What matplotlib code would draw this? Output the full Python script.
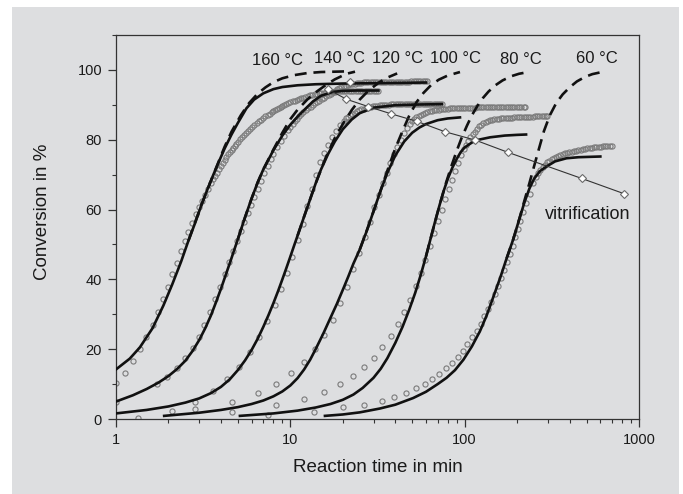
import matplotlib
matplotlib.use('Agg')
import matplotlib.pyplot as plt
from matplotlib.patches import Rectangle
from matplotlib.ticker import LogLocator, NullFormatter, MultipleLocator

plt.rcParams['font.family'] = ['Liberation Sans', 'DejaVu Sans']

GRAY = '#dddee0'
INK = '#1a1a1a'

# ---- measured conversion (circles) ----
t160 = [1.0, 1.12, 1.25, 1.37, 1.49, 1.62, 1.74, 1.87, 1.99, 2.1, 2.23, 2.36, 2.48, 2.6, 2.73, 2.86, 2.98, 3.1,
        3.23, 3.36,
        3.5, 3.6, 3.7, 3.8, 3.9, 4.0, 4.1, 4.2, 4.3, 4.4, 4.5, 4.6, 4.7, 4.8, 4.9, 5.0, 5.15, 5.3, 5.45, 5.6,
        5.75, 5.9, 6.05, 6.2, 6.4, 6.6, 6.8, 7.0, 7.2, 7.4, 7.6, 7.8, 8.0, 8.2, 8.4, 8.6, 8.8, 9.0, 9.25, 9.5,
        9.75,
        10.0, 10.3, 10.6, 10.9, 11.2, 11.5, 11.9, 12.2, 12.6, 13.0, 13.4, 13.8, 14.2, 14.6, 15.0, 15.5, 16.0, 16.5,
        17.0, 17.5, 18.0, 18.6, 19.2, 19.8, 20.4, 21.0, 21.6, 22.3, 23.0, 23.7, 24.4, 25.1, 25.9, 26.7, 27.5, 28.3,
        29.2, 30.1, 31.0, 32.0]
c160 = [10.4, 13.3, 16.5, 20.0, 23.4, 27.0, 30.6, 34.4, 37.9, 41.4, 44.8, 48.1, 51.0, 53.6, 56.2, 58.6, 60.6, 62.5,
        64.3, 66.0,
        67.6, 68.7, 69.7, 70.6, 71.5, 72.5, 73.4, 74.3, 75.1, 75.8, 76.5, 77.1, 77.7, 78.3, 78.9, 79.4, 80.1, 80.8,
        81.4, 82.0, 82.6, 83.2, 83.7, 84.2, 84.8, 85.3, 85.8, 86.3, 86.7, 87.1, 87.5, 87.9, 88.2, 88.5, 88.8, 89.1,
        89.4, 89.6, 89.9, 90.2, 90.5,
        90.7, 91.0, 91.2, 91.5, 91.7, 91.9, 92.1, 92.3, 92.5, 92.7, 92.9, 93.0, 93.2, 93.3, 93.4, 93.5, 93.6, 93.7,
        93.7, 93.8, 93.8, 93.9, 93.9, 93.9, 94.0, 94.0, 94.0, 94.0, 94.0, 94.0, 94.1, 94.1, 94.1, 94.1, 94.1, 94.1,
        94.1, 94.1, 94.1, 94.1]

t140 = [1.0, 1.73, 1.97, 2.23, 2.5, 2.78, 2.99, 3.21, 3.46, 3.7, 3.95, 4.2, 4.47, 4.71, 4.96, 5.2, 5.45, 5.7, 5.95,
        6.2, 6.5, 6.8, 7.1, 7.4, 7.7, 8.0, 8.4, 8.8, 9.2,
        9.7, 10.0, 10.3, 10.6, 10.9, 11.2, 11.5, 11.9, 12.3, 12.7, 13.1, 13.5, 13.9, 14.3, 14.7, 15.1, 15.6, 16.1,
        16.6, 17.1, 17.6, 18.1, 18.6, 19.1, 19.6,
        20.2, 20.8, 21.4, 22.0, 22.7, 23.4, 24.1, 24.8, 25.6, 26.4, 27.2, 28.0, 28.9, 29.8, 30.7, 31.6, 32.6, 33.6,
        34.6, 35.6, 36.7, 37.8, 39.0, 40.2, 41.4, 42.6, 43.9, 45.2, 46.6, 48.0, 49.4, 50.9, 52.4, 54.0, 55.6, 57.3,
        59.0, 61.0]
c140 = [5.0, 10.0, 11.9, 14.5, 17.4, 20.3, 23.4, 26.9, 30.6, 34.3, 37.9, 41.5, 45.1, 48.1, 51.0, 53.8, 56.5, 59.0,
        61.4, 63.6, 66.0, 68.3, 70.5, 72.6, 74.4, 76.0, 77.9, 79.6, 81.1,
        82.8, 83.7, 84.6, 85.3, 86.0, 86.7, 87.3, 87.9, 88.5, 89.0, 89.5, 90.0, 90.4, 90.8, 91.2, 91.6, 92.0, 92.4,
        92.8, 93.2, 93.6, 94.0, 94.4, 94.7, 95.0,
        95.3, 95.5, 95.7, 95.9, 96.0, 96.1, 96.2, 96.3, 96.3, 96.4, 96.4, 96.4, 96.5, 96.5, 96.5, 96.5, 96.5, 96.5,
        96.5, 96.5, 96.6, 96.6, 96.6, 96.6, 96.6, 96.6, 96.6, 96.6, 96.6, 96.6, 96.7, 96.7, 96.7, 96.7, 96.7, 96.7,
        96.7, 96.7]

t120 = [1.34, 2.09, 2.84, 3.58, 4.35, 5.1, 5.87, 6.6, 7.35, 8.15, 8.82, 9.55, 10.25, 11.0, 11.75, 12.5, 13.3, 14.0,
        14.8, 15.6, 16.4, 17.3, 18.2, 19.2,
        20.2, 20.8, 21.4, 22.0, 22.7, 23.4, 24.1, 24.8, 25.6, 26.4, 27.2, 28.0, 28.9, 29.8, 30.7, 31.6, 32.6, 33.6,
        34.6, 35.6, 36.7, 37.8, 39.0, 40.2, 41.4, 42.6, 43.9, 45.2, 46.6, 48.0, 49.4, 50.9, 52.4, 54.0, 55.6, 57.3,
        59.0, 60.8, 62.6, 64.5, 66.4, 68.4, 70.5, 72.6, 74.0]
c120 = [0.2, 2.4, 5.0, 8.1, 11.5, 15.0, 19.1, 23.4, 28.0, 32.6, 37.2, 41.9, 46.5, 51.3, 56.0, 61.0, 65.8, 70.0,
        73.5, 76.3, 78.6, 80.8, 82.6, 84.2,
        85.5, 86.1, 86.6, 87.0, 87.4, 87.8, 88.1, 88.4, 88.7, 88.9, 89.1, 89.3, 89.5, 89.6, 89.7, 89.8, 89.9, 89.9,
        90.0, 90.0, 90.0, 90.1, 90.1, 90.1, 90.1, 90.1, 90.2, 90.2, 90.2, 90.2, 90.2, 90.2, 90.2, 90.2, 90.2, 90.2,
        90.2, 90.2, 90.2, 90.2, 90.2, 90.2, 90.2, 90.2, 90.2]

t100 = [2.84, 4.65, 6.5, 8.28, 10.1, 11.96, 13.8, 15.6, 17.6, 19.3, 21.1, 22.9, 24.9, 26.7, 28.5, 30.3, 32.1, 33.9,
        35.7, 37.5, 39.3, 41.1, 42.9, 44.7, 46.5,
        48.3, 49.8, 51.3, 52.8, 54.4, 56.0, 57.7, 59.4, 61.2, 63.0, 64.9, 66.8, 68.8, 70.9, 73.0, 75.2, 77.5, 79.8,
        82.2, 84.7, 87.2, 89.8, 92.5, 95.3, 98.2, 101, 104, 107, 110, 114, 117, 121, 124, 128, 132, 136, 140, 144,
        148, 153, 157, 162, 167, 172, 177, 182, 188, 193, 199, 205, 211, 218, 222]
c100 = [2.9, 5.0, 7.4, 9.9, 13.1, 16.4, 20.1, 24.1, 28.4, 33.1, 37.9, 42.9, 47.6, 52.2, 56.5, 60.6, 64.2, 67.5,
        70.6, 73.4, 75.8, 78.0, 80.0, 81.8, 83.3,
        84.6, 85.3, 85.9, 86.4, 86.8, 87.2, 87.5, 87.8, 88.0, 88.2, 88.3, 88.4, 88.5, 88.6, 88.7, 88.8, 88.9, 88.9,
        89.0, 89.0, 89.0, 89.1, 89.1, 89.1, 89.1, 89.2, 89.2, 89.2, 89.2, 89.2, 89.3, 89.3, 89.3, 89.3, 89.3, 89.3,
        89.3, 89.3, 89.3, 89.3, 89.3, 89.3, 89.3, 89.3, 89.3, 89.3, 89.3, 89.3, 89.3, 89.3, 89.3, 89.3, 89.3]

t80 = [4.65, 8.28, 11.96, 15.6, 19.2, 22.8, 26.6, 30.1, 33.4, 37.7, 41.5, 44.8, 48.7, 52.4, 56.0, 59.4, 63.0, 66.6,
       70.2, 73.8, 77.4, 81.0, 84.6, 88.2, 91.8, 95.4,
       99.0, 102, 105, 108, 111, 114, 117, 121, 124, 128, 132, 136, 140, 144, 148, 153, 157, 162, 167, 172, 177, 182,
       188, 193, 199, 205, 211, 218, 224, 231, 238, 245, 252, 260, 268, 276, 284, 292, 296]
c80 = [2.1, 4.0, 5.7, 7.6, 9.9, 12.3, 14.8, 17.6, 20.5, 23.8, 27.1, 30.7, 34.2, 38.0, 41.7, 45.5, 49.5, 53.2, 56.8,
       60.0, 63.0, 65.8, 68.4, 71.0, 73.4, 75.6,
       77.4, 78.6, 79.7, 80.7, 81.6, 82.3, 83.0, 83.8, 84.2, 84.7, 85.0, 85.3, 85.6, 85.8, 85.9, 86.0, 86.0, 86.1,
       86.1, 86.2, 86.2, 86.3, 86.3, 86.4, 86.4, 86.5, 86.5, 86.5, 86.6, 86.6, 86.6, 86.6, 86.7, 86.7, 86.7, 86.8,
       86.8, 86.8, 86.8]

t60 = [7.4, 13.7, 20.1, 26.6, 33.4, 39.3, 45.9, 52.4, 59.0, 65.2, 71.6, 78.2, 84.6, 91.2, 97.4, 103.5, 110.6, 117.2,
       123.6, 129.6, 136.1, 142.2, 148.7, 154.8, 161.6, 168.2, 175.0, 182.0, 188.5, 195.0, 201.5, 208.0, 216.5, 226,
       236, 246,
       256, 264, 272, 280, 288, 297, 306, 315, 324, 334, 344, 354, 365, 376, 387, 399, 411, 423, 436, 449, 462, 476,
       490, 505, 520, 536, 552, 569, 586, 603, 621, 640, 659, 679, 700]
c60 = [1.2, 2.1, 3.4, 4.1, 5.2, 6.4, 7.5, 8.9, 10.1, 11.5, 13.0, 14.5, 16.1, 17.9, 19.6, 21.4, 23.4, 25.3, 27.3,
       29.4, 31.5, 33.6, 35.9, 38.2, 40.5, 42.8, 45.0, 47.3, 49.6, 52.0, 54.3, 56.6, 59.4, 61.8, 64.6, 67.5,
       69.4, 70.4, 71.3, 72.1, 72.8, 73.5, 74.0, 74.5, 74.8, 75.2, 75.4, 75.6, 75.9, 76.1, 76.3, 76.5, 76.6, 76.8,
       76.9, 77.1, 77.2, 77.3, 77.4, 77.5, 77.6, 77.7, 77.8, 77.9, 77.9, 78.0, 78.1, 78.1, 78.2, 78.2, 78.3]

# ---- model with vitrification (solid) ----
s160_t = [1.0, 1.2, 1.37, 1.62, 1.87, 2.1, 2.36, 2.6, 2.86, 3.1, 3.36, 3.62, 3.9, 4.2, 4.6, 5.0, 5.6, 6.2, 7.0, 8.0,
          9.0, 11, 14, 20, 30, 45, 60]
s160_c = [14.2, 17.3, 20.5, 26.0, 32.5, 38.5, 45.0, 51.0, 56.5, 61.5, 66.0, 70.0, 73.8, 77.5, 81.5, 84.8, 89.0, 91.5,
          93.3, 94.5, 95.1, 95.6, 95.9, 96.1, 96.2, 96.3, 96.4]
s140_t = [1.0, 1.25, 1.5, 1.75, 2.0, 2.25, 2.5, 2.75, 3.0, 3.25, 3.5, 3.75, 4.0, 4.5, 5.0, 5.5, 6.0, 6.5, 7.0, 8.0,
          9.0, 10.0, 11.0, 12.0, 13.5, 15.0, 17.5, 20.0, 24.0, 28.0, 32.0]
s140_c = [5.0, 6.8, 8.6, 10.4, 12.3, 14.4, 16.7, 19.5, 22.6, 26.0, 29.6, 33.5, 37.3, 44.7, 51.5, 57.8, 63.2, 67.8,
          71.5, 77.0, 81.2, 84.3, 86.6, 88.5, 91.0, 92.6, 93.7, 94.0, 94.1, 94.1, 94.1]
s120_t = [1.0, 1.5, 2.0, 2.5, 3.0, 3.5, 4.0, 4.5, 5.0, 5.5, 6.0, 6.5, 7.0, 7.5, 8.0, 8.5, 9.0, 9.5, 10.0, 10.5,
          11.0, 12.0, 13.0, 14.0, 15.0, 16.5, 18, 20, 22.5, 25, 30, 40, 55, 74]
s120_c = [1.6, 2.6, 3.6, 4.7, 5.9, 7.4, 9.2, 11.4, 14.0, 16.8, 19.8, 23.0, 26.4, 29.8, 33.2, 36.6, 40.0, 43.3, 46.5,
          49.6, 52.5, 58.0, 63.0, 67.6, 71.5, 76.0, 79.5, 83.0, 85.8, 87.6, 89.2, 89.9, 90.1, 90.2]
s100_t = [1.89, 3, 4, 5, 6, 7, 8, 9, 10, 11, 12, 13, 14, 15.5, 17, 18.5, 20, 21.5, 23, 25, 27.5, 30, 33, 36, 40, 45,
          50, 55, 60, 70, 80, 94]
s100_c = [0.9, 1.8, 2.6, 3.4, 4.3, 5.3, 6.5, 7.9, 9.6, 11.7, 14.2, 17.0, 20.1, 24.6, 29.0, 33.0, 37.0, 40.8, 44.5,
          48.5, 54.0, 59.5, 65.5, 70.5, 75.5, 79.5, 82.0, 83.5, 84.5, 85.6, 86.1, 86.4]
s80_t = [5.14, 8, 11, 14, 17, 20, 23, 26, 30, 33, 36, 40, 44, 48, 52, 56, 60, 64, 68, 72, 76, 80, 85, 90, 95, 100,
         110, 120, 140, 170, 200, 225]
s80_c = [0.9, 1.6, 2.4, 3.3, 4.3, 5.5, 7.0, 8.9, 11.8, 14.4, 17.4, 21.8, 26.4, 31.2, 36.1, 41.3, 46.6, 52.0, 57.0,
         61.5, 65.5, 68.8, 72.0, 74.5, 76.5, 77.8, 79.2, 80.0, 80.7, 81.2, 81.4, 81.5]
s60_t = [15.8, 20, 25, 32.6, 40, 50.6, 60, 70, 78.7, 88, 98.4, 110, 122.5, 134, 145.6, 160, 174, 190, 205, 220, 235,
         250, 270, 294, 330, 384, 450, 520, 600]
s60_c = [0.9, 1.3, 1.9, 3.0, 4.1, 6.0, 7.8, 10.0, 11.8, 14.0, 17.0, 20.8, 25.2, 29.8, 34.8, 40.5, 46.0, 51.5, 57.0,
         62.0, 66.0, 68.8, 71.0, 72.3, 73.8, 74.7, 75.0, 75.1, 75.2]

# ---- model without vitrification (dashed) ----
d160_t = [2.6, 3.1, 3.62, 4.2, 4.6, 5.2, 5.8, 6.5, 7.2, 8.0, 9.0, 10.5, 12.5, 15, 18, 21.5]
d160_c = [51.0, 61.5, 70.0, 78.0, 82.3, 87.0, 90.5, 93.2, 95.0, 96.5, 97.6, 98.5, 99.1, 99.4, 99.5, 99.6]
d140_t = [5.0, 5.5, 6.0, 6.5, 7.0, 8.0, 9.0, 10.0, 11.0, 12.5, 14.0, 16.0, 18.0, 21.0, 23.5]
d140_c = [51.5, 57.8, 63.2, 67.8, 71.5, 77.2, 82.0, 85.9, 88.6, 91.5, 93.6, 95.7, 97.3, 98.9, 99.5]
d120_t = [11.0, 12.0, 13.0, 14.0, 16.0, 18.0, 20.0, 22.5, 25.0, 28.0, 32.0, 36.0, 41.0]
d120_c = [52.5, 58.0, 63.0, 67.6, 75.0, 80.5, 84.5, 88.5, 91.5, 94.0, 96.3, 97.8, 99.0]
d100_t = [25, 28, 31, 34, 37, 40, 44, 48, 53, 58, 64, 71, 80, 94]
d100_c = [48.5, 55.2, 61.5, 67.5, 72.8, 77.5, 82.5, 86.8, 90.8, 93.4, 95.6, 97.2, 98.4, 99.4]
d80_t = [60, 66, 72, 78, 84, 90, 96, 103, 110, 118, 127, 137, 150, 165, 185, 205, 226]
d80_c = [46.6, 54.5, 61.5, 67.5, 72.5, 76.8, 80.5, 84.0, 87.0, 89.6, 91.9, 93.8, 95.6, 97.0, 98.2, 98.9, 99.3]
d60_t = [174, 190, 205, 220, 235, 252, 267, 285, 308, 335, 365, 400, 440, 490, 540, 600]
d60_c = [46.0, 51.5, 57.0, 62.5, 67.5, 73.0, 77.5, 82.5, 87.0, 90.5, 93.0, 95.0, 96.7, 98.0, 98.8, 99.3]

# ---- vitrification line ----
vit_t = [16.4, 21, 28, 38, 53, 77, 115, 177, 470, 815]
vit_c = [94.5, 91.6, 89.5, 87.4, 85.3, 82.3, 79.9, 76.4, 68.9, 64.6]
vit_extra_t = [22]
vit_extra_c = [96.4]

temps = ['160 °C', '140 °C', '120 °C', '100 °C', '80 °C', '60 °C']
temp_x = [8.44, 19.05, 41.2, 88.1, 210, 576]
temp_y = [101.4, 102.1, 102.1, 102.1, 101.7, 102.1]

data = [(t160, c160), (t140, c140), (t120, c120), (t100, c100), (t80, c80), (t60, c60)]
solid = [(s160_t, s160_c), (s140_t, s140_c), (s120_t, s120_c), (s100_t, s100_c), (s80_t, s80_c), (s60_t, s60_c)]
dashed = [(d160_t, d160_c), (d140_t, d140_c), (d120_t, d120_c), (d100_t, d100_c), (d80_t, d80_c), (d60_t, d60_c)]

fig = plt.figure(figsize=(6.83, 4.94), dpi=100)
# grey panel behind everything, white strip on the left, top and right
fig.patches.append(Rectangle((12 / 683, 0), 667 / 683, 487 / 494, transform=fig.transFigure,
                             facecolor=GRAY, edgecolor='none', zorder=-10))
ax = fig.add_axes([0.1698, 0.1518, 0.7658, 0.7773])
ax.set_facecolor(GRAY)

for t, c in data:
    ax.plot(t, c, 'o', ms=3.7, mfc='none', mec='#7a7a7a', mew=0.8, zorder=2)
for t, c in solid:
    ax.plot(t, c, '-', color='#111111', lw=1.9, zorder=3)
for t, c in dashed:
    ax.plot(t, c, color='#111111', lw=1.9, ls=(0, (4.5, 2.6)), zorder=3)

ax.plot(vit_t, vit_c, '-', color='#333333', lw=0.8, marker='D', ms=4.2, mfc='white', mec='#6a6a6a', mew=0.8,
        zorder=4)
ax.plot(vit_extra_t, vit_extra_c, 'D', ms=4.2, mfc='white', mec='#6a6a6a', mew=0.8, zorder=4)

for s, x, y in zip(temps, temp_x, temp_y):
    ax.text(x, y, s, ha='center', va='baseline', fontsize=12, color=INK, zorder=5)
ax.text(506, 57.2, 'vitrification', ha='center', va='baseline', fontsize=13, color=INK, zorder=5)

ax.set_xscale('log')
ax.set_xlim(1, 1000)
ax.set_ylim(0, 110)
ax.set_xticks([1, 10, 100, 1000], labels=['1', '10', '100', '1000'])
ax.xaxis.set_minor_locator(LogLocator(base=10, subs=range(2, 10)))
ax.xaxis.set_minor_formatter(NullFormatter())
ax.set_yticks([0, 20, 40, 60, 80, 100])
ax.yaxis.set_minor_locator(MultipleLocator(10))

ax.tick_params(which='major', direction='out', length=6, width=0.9, labelsize=10.5, colors='#333333',
               labelcolor=INK, pad=4)
ax.tick_params(which='minor', direction='out', length=3.2, width=0.8, colors='#333333')
ax.tick_params(top=False, right=False, which='both')
for sp in ax.spines.values():
    sp.set_color('#333333')
    sp.set_linewidth(0.9)

ax.set_xlabel('Reaction time in min', fontsize=13.5, color=INK)
ax.xaxis.set_label_coords(0.5, -0.105)
ax.set_ylabel('Conversion in %', fontsize=13.5, color=INK)
ax.yaxis.set_label_coords(-0.125, 0.54)

fig.savefig('out.png', dpi=100)
